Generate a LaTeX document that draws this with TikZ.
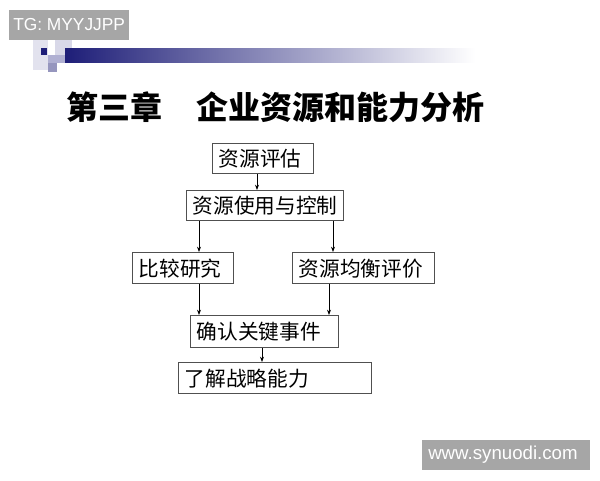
\documentclass[tikz,border=0pt]{standalone}
\usepackage{fontspec}
\setmainfont{Liberation Sans}
\newfontfamily\cjk{Noto Sans CJK SC}
\usetikzlibrary{arrows.meta}
\def\px{0.75pt}
\definecolor{navy}{RGB}{30,30,120}
\definecolor{wmgray}{RGB}{166,166,166}
\definecolor{boxline}{RGB}{80,80,80}
\tikzset{
  fbox/.style={draw=boxline, line width=1.1pt, anchor=north west, inner xsep=6*\px, inner ysep=0pt,
    font=\cjk\fontsize{15.5pt}{18pt}\selectfont, align=left},
  arr/.style={line width=0.6pt, -{Stealth[length=4pt,width=3pt]}},
  wm/.style={fill=wmgray, text=white, inner sep=0pt, anchor=north west}
}
\begin{document}
\begin{tikzpicture}[x=0.75pt,y=-0.75pt]
\useasboundingbox (0,0) rectangle (600,480);
\fill[white] (0,0) rectangle (600,480);
% decoration
\fill[RGB/.cd] [fill={rgb,255:red,226;green,226;blue,238}] (33,40) rectangle (48,70);
\fill[fill={rgb,255:red,216;green,216;blue,232}] (55,40) rectangle (72,55);
\fill[fill={rgb,255:red,176;green,176;blue,210}] (48,55) rectangle (65,63);
\fill[fill={rgb,255:red,150;green,150;blue,190}] (48,63) rectangle (57,72);
\fill[navy] (41,48) rectangle (47,55);
\shade[left color=navy, right color=white] (65,48) rectangle (475,62);
% watermark top
\node[wm, minimum width=120*\px, minimum height=30*\px] (tg) at (9,10) {};
\node[text=white, anchor=west, inner sep=0pt, font=\fontsize{13pt}{15pt}\selectfont] (tgt) at (13,25) {TG: MYYJJPP};
% title
\node[anchor=west, inner sep=0pt, font=\cjk\bfseries\fontsize{24pt}{28pt}\selectfont] (t1) at (66,107) {第三章};
\node[anchor=west, inner sep=0pt, font=\cjk\bfseries\fontsize{24pt}{28pt}\selectfont] (t2) at (196,107) {企业资源和能力分析};
% boxes
\node[fbox, text width=89*\px, minimum height=30*\px] (A) at (212,143) {资源评估};
\node[fbox, text width=145*\px, minimum height=30*\px] (B) at (186,190) {资源使用与控制};
\node[fbox, text width=89*\px, minimum height=31*\px] (C) at (132,252) {比较研究};
\node[fbox, text width=130*\px, minimum height=31*\px] (D) at (292,252) {资源均衡评价};
\node[fbox, text width=136*\px, minimum height=32*\px] (E) at (190,315) {确认关键事件};
\node[fbox, text width=181*\px, minimum height=31*\px] (F) at (178,362) {了解战略能力};
% arrows
\draw[arr] (A.south -| 257,0) -- (B.north -| 257,0);
\draw[arr] (B.south -| 199,0) -- (C.north -| 199,0);
\draw[arr] (B.south -| 333,0) -- (D.north -| 333,0);
\draw[arr] (C.south -| 199,0) -- (E.north -| 199,0);
\draw[arr] (D.south -| 329,0) -- (E.north -| 329,0);
\draw[arr] (E.south -| 262,0) -- (F.north -| 262,0);
% watermark bottom
\node[wm, minimum width=168*\px, minimum height=30*\px] (ws) at (422,440) {};
\node[text=white, anchor=west, inner sep=0pt, font=\fontsize{14pt}{16pt}\selectfont] (wst) at (428,455) {www.synuodi.com};
\end{tikzpicture}
\end{document}
